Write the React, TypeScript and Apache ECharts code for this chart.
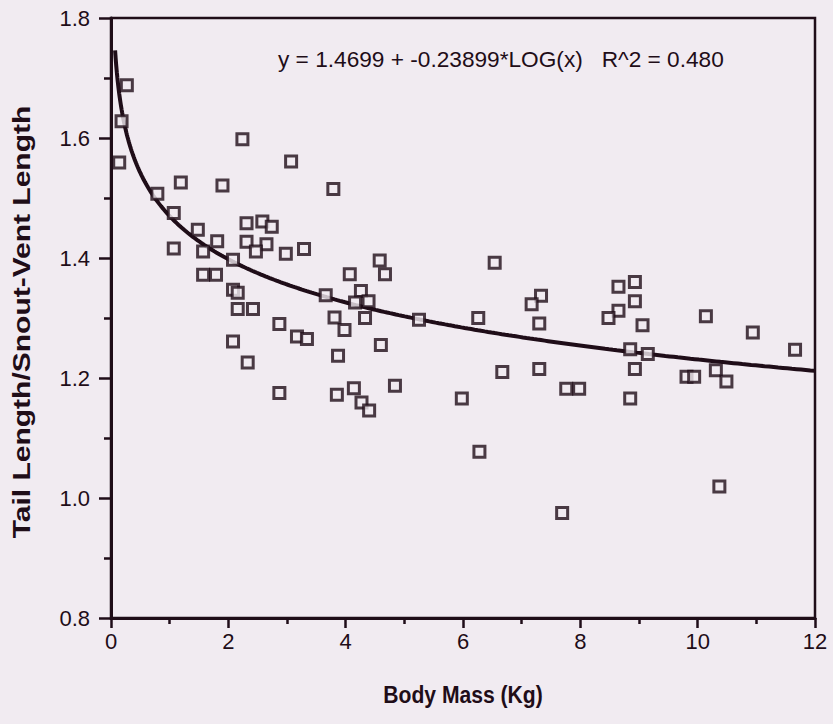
import React, { useEffect, useRef } from "react";
import * as echarts from "echarts";

// Body mass (kg) and tail/snout-vent ratio
const massKg = [
  0.27, 0.18, 0.14, 2.24, 3.07, 1.19, 1.9, 3.79, 0.79, 1.07,
  1.48, 2.31, 2.58, 2.74, 1.07, 1.57, 1.81, 2.31, 2.65, 2.47,
  2.98, 3.29, 2.08, 1.57, 1.79, 2.08, 2.16, 2.16, 2.42, 2.08,
  2.33, 2.87, 3.17, 3.34, 3.87, 3.66, 4.07, 4.26, 4.16, 4.39,
  4.33, 3.81, 3.98, 4.6, 2.87, 3.85, 4.14, 4.27, 4.4, 4.58,
  4.67, 6.54, 4.84, 5.25, 6.26, 7.33, 7.17, 7.3, 6.67, 7.3,
  5.98, 7.76, 7.98, 6.28, 7.69, 8.65, 8.93, 8.93, 8.65, 8.48,
  9.06, 10.14, 10.94, 11.66, 8.85, 9.15, 8.93, 9.81, 9.94, 10.31,
  10.49, 8.85, 10.37,
];
const tailRatio = [
  1.688, 1.628, 1.559, 1.598, 1.561, 1.526, 1.521, 1.515, 1.507, 1.475,
  1.447, 1.458, 1.461, 1.452, 1.416, 1.411, 1.428, 1.427, 1.423, 1.411,
  1.407, 1.415, 1.397, 1.372, 1.372, 1.347, 1.342, 1.315, 1.315, 1.261,
  1.226, 1.29, 1.269, 1.265, 1.237, 1.338, 1.373, 1.345, 1.326, 1.328,
  1.3, 1.301, 1.28, 1.255, 1.175, 1.172, 1.183, 1.159, 1.146, 1.396,
  1.373, 1.392, 1.187, 1.297, 1.3, 1.337, 1.323, 1.291, 1.21, 1.215,
  1.166, 1.182, 1.182, 1.077, 0.975, 1.352, 1.36, 1.328, 1.312, 1.3,
  1.288, 1.303, 1.276, 1.247, 1.248, 1.24, 1.215, 1.202, 1.202, 1.213,
  1.194, 1.166, 1.019,
];

// Fitted curve shown in the chart: y = a + b*log10(x)
const fitA = 1.4699;
const fitB = -0.23899;
const fitStart = 0.07;
const fitEnd = 12;
const equationText = "y = 1.4699 + -0.23899*LOG(x)   R^2 = 0.480";

const xTitle = "Body Mass (Kg)";
const yTitle = "Tail Length/Snout-Vent Length";

const INK = "#1f0d18";
const BG = "#f1ebf1";
const FONT = "'Liberation Sans', Arial, Helvetica, sans-serif";

export default function App() {
  const ref = useRef<HTMLDivElement>(null);
  useEffect(() => {
    if (!ref.current) return;
    const chart = echarts.init(ref.current, undefined, { renderer: "svg" });

    const points = massKg.map((x, i) => [x, tailRatio[i]]);
    const curve: number[][] = [];
    const n = 300;
    for (let i = 0; i <= n; i++) {
      const t = i / n;
      const x = fitStart + (fitEnd - fitStart) * t * t;
      curve.push([x, fitA + fitB * Math.log10(x)]);
    }

    chart.setOption({
      animation: false,
      backgroundColor: BG,
      textStyle: { fontFamily: FONT, color: INK },
      grid: {
        left: 111,
        top: 18,
        right: 18,
        bottom: 106,
        show: true,
        borderColor: INK,
        borderWidth: 2.5,
        backgroundColor: "transparent",
      },
      xAxis: {
        type: "value",
        min: 0,
        max: 12,
        interval: 2,
        axisLine: { show: true, lineStyle: { color: INK, width: 3 } },
        axisTick: { show: true, inside: false, length: 10, lineStyle: { color: INK, width: 2.5 } },
        minorTick: { show: true, splitNumber: 2, length: 6, lineStyle: { color: INK, width: 2.5 } },
        splitLine: { show: false },
        axisLabel: { color: INK, fontSize: 22, margin: 12, fontFamily: FONT },
      },
      yAxis: {
        type: "value",
        min: 0.8,
        max: 1.8,
        interval: 0.2,
        axisLine: { show: true, lineStyle: { color: INK, width: 3 } },
        axisTick: { show: true, inside: false, length: 12, lineStyle: { color: INK, width: 2.5 } },
        minorTick: { show: true, splitNumber: 2, length: 7, lineStyle: { color: INK, width: 2.5 } },
        splitLine: { show: false },
        axisLabel: {
          color: INK,
          fontSize: 22,
          margin: 21,
          fontFamily: FONT,
          formatter: (v: number) => v.toFixed(1),
        },
      },
      series: [
        {
          type: "line",
          data: curve,
          showSymbol: false,
          smooth: false,
          lineStyle: { color: INK, width: 4 },
          z: 2,
          silent: true,
        },
        {
          type: "scatter",
          data: points,
          symbol: "rect",
          symbolSize: 11,
          itemStyle: { color: BG, borderColor: INK, borderWidth: 3 },
          z: 3,
        },
      ],
      graphic: [
        {
          type: "text",
          x: 278,
          y: 60,
          scaleX: 1.03,
          style: {
            text: equationText,
            font: `22px ${FONT}`,
            fill: INK,
            align: "left",
            verticalAlign: "middle",
          },
        },
        {
          type: "text",
          x: 463,
          y: 695,
          scaleX: 0.88,
          style: {
            text: xTitle,
            font: `bold 24px ${FONT}`,
            fill: INK,
            align: "center",
            verticalAlign: "middle",
          },
        },
        {
          type: "text",
          x: 22,
          y: 322,
          rotation: Math.PI / 2,
          scaleX: 1.25,
          style: {
            text: yTitle,
            font: `bold 24px ${FONT}`,
            fill: INK,
            align: "center",
            verticalAlign: "middle",
          },
        },
      ],
    });
    return () => chart.dispose();
  }, []);
  return (
    <div
      ref={ref}
      style={{ position: "fixed", left: 0, top: 0, width: 833, height: 724 }}
    />
  );
}
